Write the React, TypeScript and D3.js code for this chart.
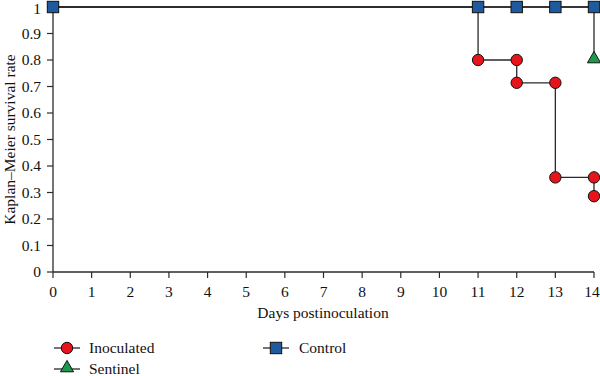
import React from "react";
import * as d3 from "d3";

const days = [0, 11, 12, 13, 14];
const controlValues = [1, 1, 1, 1, 1];
const inoculatedSteps: [number, number][] = [
  [0, 1], [11, 1], [11, 0.8], [12, 0.8], [12, 0.714], [13, 0.714], [13, 0.357], [14, 0.357], [14, 0.286],
];
const inoculatedMarkers: [number, number][] = [
  [11, 0.8], [12, 0.8], [12, 0.714], [13, 0.714], [13, 0.357], [14, 0.357], [14, 0.286],
];
const sentinelSteps: [number, number][] = [[0, 1], [14, 1], [14, 0.8]];
const sentinelMarkers: [number, number][] = [[14, 0.8]];
const xTicks = d3.range(0, 15);
const yTicks = [0, 0.1, 0.2, 0.3, 0.4, 0.5, 0.6, 0.7, 0.8, 0.9, 1];

const FONT = "'Liberation Serif', 'DejaVu Serif', serif";
const LINE = "#2a2a2a";
const RED = "#e8141b";
const BLUE = "#1f5a9e";
const GREEN = "#1a9a4a";
const FS = 15.5;

export default function App() {
  const W = 600, H = 376;
  const x = d3.scaleLinear().domain([0, 14]).range([53, 594]);
  const y = d3.scaleLinear().domain([0, 1]).range([272, 7]);
  const line = d3.line<[number, number]>().x(d => x(d[0])).y(d => y(d[1]));
  const tri = d3.symbol().type(d3.symbolTriangle).size(75)() as string;

  return (
    <svg width={W} height={H} style={{ position: "absolute", left: 0, top: 0 }} fontFamily={FONT}>
      <rect width={W} height={H} fill="#fff" />
      {/* axes */}
      <line x1={53} x2={53} y1={7} y2={272} stroke={LINE} strokeWidth={1.3} />
      <line x1={53} x2={594} y1={272} y2={272} stroke={LINE} strokeWidth={1.3} />
      {yTicks.map(t => (
        <g key={"y" + t}>
          <line x1={47} x2={53} y1={y(t)} y2={y(t)} stroke={LINE} strokeWidth={1.2} />
          <text x={41} y={y(t)} dy={t === 1 ? "0.45em" : "0.35em"} textAnchor="end" fontSize={FS} fill="#111">{String(t)}</text>
        </g>
      ))}
      {xTicks.map(t => (
        <g key={"x" + t}>
          <line x1={x(t)} x2={x(t)} y1={272} y2={278} stroke={LINE} strokeWidth={1.2} />
          <text x={x(t)} dx={t === 14 ? -2 : 0} y={297} textAnchor="middle" fontSize={FS} fill="#111">{t}</text>
        </g>
      ))}
      <text x={323} y={318} textAnchor="middle" fontSize={FS} fill="#111">Days postinoculation</text>
      <text transform={`translate(15,${y(0.5)}) rotate(-90)`} textAnchor="middle" fontSize={FS} fill="#111">Kaplan–Meier survival rate</text>

      {/* series lines */}
      <path d={line(inoculatedSteps) || ""} fill="none" stroke={LINE} strokeWidth={1.3} />
      <path d={line(sentinelSteps) || ""} fill="none" stroke={LINE} strokeWidth={1.3} />
      <path d={line(days.map((d, i) => [d, controlValues[i]] as [number, number])) || ""} fill="none" stroke={LINE} strokeWidth={1.3} />

      {/* markers */}
      {inoculatedMarkers.map((p, i) => (
        <circle key={"c" + i} cx={x(p[0])} cy={y(p[1])} r={5.7} fill={RED} stroke="#111" strokeWidth={1} />
      ))}
      {sentinelMarkers.map((p, i) => (
        <path key={"t" + i} d={tri} transform={`translate(${x(p[0])},${y(p[1]) - 1})`} fill={GREEN} stroke="#111" strokeWidth={1} />
      ))}
      {days.map((d, i) => (
        <rect key={"s" + i} x={x(d) - 5.7} y={y(controlValues[i]) - 5.7} width={11.4} height={11.4} fill={BLUE} stroke="#111" strokeWidth={1} />
      ))}

      {/* legend */}
      <g>
        <line x1={54} x2={80} y1={348} y2={348} stroke={LINE} strokeWidth={1.3} />
        <circle cx={67} cy={348} r={5.7} fill={RED} stroke="#111" strokeWidth={1} />
        <text x={89} y={348} dy="0.35em" fontSize={FS} fill="#111">Inoculated</text>

        <line x1={54} x2={80} y1={369} y2={369} stroke={LINE} strokeWidth={1.3} />
        <path d={tri} transform={`translate(67,368)`} fill={GREEN} stroke="#111" strokeWidth={1} />
        <text x={89} y={369} dy="0.3em" fontSize={FS} fill="#111">Sentinel</text>

        <line x1={263} x2={289} y1={348} y2={348} stroke={LINE} strokeWidth={1.3} />
        <rect x={270.3} y={342.3} width={11.4} height={11.4} fill={BLUE} stroke="#111" strokeWidth={1} />
        <text x={299} y={348} dy="0.35em" fontSize={FS} fill="#111">Control</text>
      </g>
    </svg>
  );
}
